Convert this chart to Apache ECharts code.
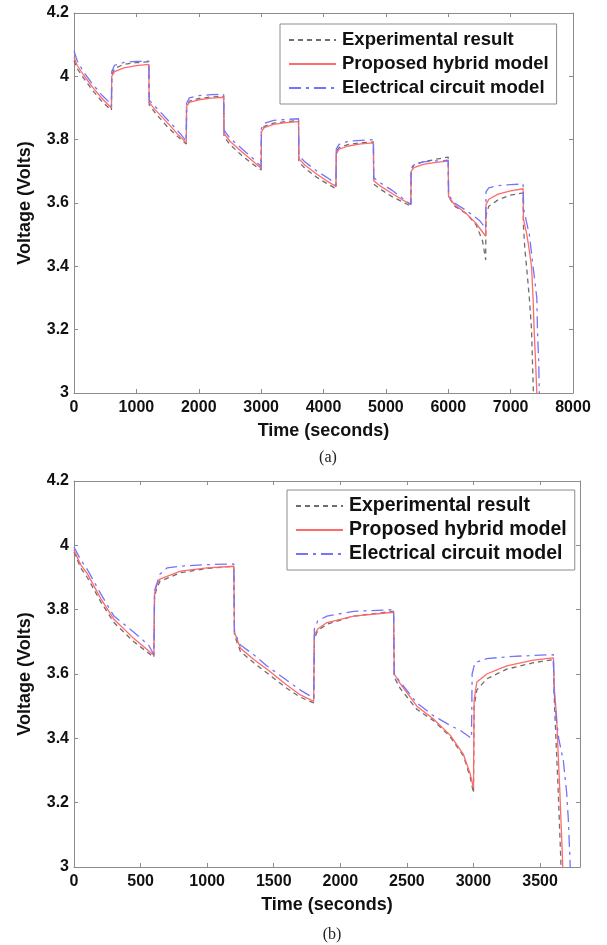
<!DOCTYPE html>
<html>
<head>
<meta charset="UTF-8">
<title>Voltage response</title>
<script src="https://cdn.jsdelivr.net/npm/echarts@6/dist/echarts.min.js"></script>
<style>
html,body{margin:0;padding:0;background:#fff;}
#chart{width:607px;height:945px;}
</style>
</head>
<body>
<div id="chart"></div>
<script>
// series names / tick settings
var names = ['Experimental result', 'Proposed hybrid model', 'Electrical circuit model'];
var yTicks = {min: 3, max: 4.2, step: 0.2};
var xTicksA = {min: 0, max: 8000, step: 1000};
var xTicksB = {min: 0, max: 3800, step: 500};

// (a) values: [time s, voltage V]
var expA = [[0,4.05],[50,4.025],[150,3.995],[300,3.955],[450,3.92],[600,3.893],
  [605,4.005],[650,4.025],[800,4.038],[1000,4.043],[1200,4.046],
  [1205,3.91],[1300,3.885],[1500,3.84],[1650,3.812],[1800,3.786],
  [1805,3.905],[1850,3.922],[2000,3.93],[2200,3.935],[2400,3.937],
  [2405,3.81],[2500,3.785],[2700,3.748],[2850,3.725],[3000,3.704],
  [3005,3.83],[3050,3.842],[3200,3.852],[3400,3.857],[3600,3.86],
  [3605,3.73],[3700,3.71],[3900,3.68],[4050,3.662],[4200,3.645],
  [4205,3.76],[4250,3.775],[4400,3.785],[4600,3.79],[4800,3.793],
  [4805,3.66],[4900,3.645],[5100,3.62],[5250,3.605],[5400,3.59],
  [5405,3.705],[5450,3.72],[5600,3.73],[5800,3.738],[6000,3.745],
  [6005,3.62],[6100,3.59],[6300,3.565],[6450,3.53],[6550,3.48],[6600,3.42],
  [6605,3.56],[6650,3.59],[6800,3.61],[7000,3.625],[7200,3.632],
  [7205,3.53],[7230,3.45],[7255,3.40],[7300,3.30],[7335,3.20],[7350,3.10],[7365,3.0],[7370,2.95]];
var hybA = [[0,4.06],[50,4.035],[150,4.005],[300,3.965],[450,3.93],[600,3.90],
  [605,4.0],[650,4.015],[800,4.027],[1000,4.034],[1200,4.038],
  [1205,3.918],[1300,3.895],[1500,3.853],[1650,3.82],[1800,3.79],
  [1805,3.905],[1850,3.918],[2000,3.926],[2200,3.931],[2400,3.934],
  [2405,3.82],[2500,3.795],[2700,3.76],[2850,3.735],[3000,3.71],
  [3005,3.825],[3050,3.838],[3200,3.848],[3400,3.854],[3600,3.857],
  [3605,3.74],[3700,3.72],[3900,3.69],[4050,3.67],[4200,3.652],
  [4205,3.755],[4250,3.77],[4400,3.78],[4600,3.787],[4800,3.79],
  [4805,3.67],[4900,3.655],[5100,3.63],[5250,3.612],[5400,3.595],
  [5405,3.70],[5450,3.712],[5600,3.722],[5800,3.728],[6000,3.732],
  [6005,3.62],[6100,3.595],[6300,3.565],[6450,3.535],[6600,3.495],
  [6605,3.595],[6650,3.612],[6800,3.628],[7000,3.638],[7200,3.645],
  [7205,3.55],[7260,3.50],[7300,3.45],[7335,3.40],[7360,3.30],[7377,3.20],[7400,3.10],[7420,3.0],[7430,2.95]];
var eccA = [[0,4.08],[50,4.05],[150,4.015],[300,3.975],[450,3.94],[580,3.915],[600,3.905],
  [605,4.015],[650,4.035],[800,4.044],[1000,4.047],[1200,4.048],
  [1205,3.925],[1300,3.905],[1500,3.863],[1700,3.82],[1800,3.795],
  [1805,3.915],[1850,3.932],[2000,3.939],[2200,3.942],[2400,3.943],
  [2405,3.83],[2500,3.805],[2700,3.77],[2900,3.735],[3000,3.715],
  [3005,3.835],[3050,3.852],[3200,3.861],[3400,3.864],[3600,3.866],
  [3605,3.75],[3700,3.73],[3900,3.70],[4100,3.675],[4200,3.655],
  [4205,3.77],[4250,3.785],[4400,3.795],[4600,3.798],[4800,3.80],
  [4805,3.68],[4900,3.665],[5100,3.64],[5300,3.61],[5400,3.595],
  [5405,3.71],[5450,3.722],[5600,3.73],[5800,3.733],[6000,3.735],
  [6005,3.625],[6100,3.60],[6300,3.575],[6500,3.545],[6600,3.52],
  [6605,3.635],[6650,3.648],[6800,3.655],[7000,3.658],[7200,3.66],
  [7210,3.58],[7300,3.50],[7360,3.40],[7420,3.30],[7430,3.20],[7450,3.10],[7460,3.0],[7465,2.95]];

// (b)
var expB = [[0,3.98],[50,3.93],[100,3.90],[200,3.825],[300,3.76],[450,3.70],[600,3.652],
  [605,3.84],[620,3.865],[645,3.888],[800,3.915],[1000,3.928],[1200,3.935],
  [1205,3.72],[1250,3.67],[1350,3.635],[1450,3.603],[1600,3.555],[1700,3.528],[1800,3.51],
  [1805,3.71],[1830,3.735],[1900,3.755],[2100,3.78],[2400,3.795],
  [2405,3.59],[2450,3.555],[2575,3.49],[2700,3.455],[2825,3.405],[2925,3.345],[2975,3.28],[3000,3.23],
  [3005,3.50],[3025,3.55],[3100,3.585],[3250,3.615],[3450,3.635],[3600,3.645],
  [3605,3.55],[3612,3.47],[3635,3.25],[3656,3.02],[3660,2.95]];
var hybB = [[0,3.985],[50,3.94],[100,3.912],[200,3.835],[300,3.77],[450,3.71],[600,3.658],
  [605,3.85],[620,3.875],[645,3.895],[800,3.92],[1000,3.93],[1200,3.935],
  [1205,3.73],[1250,3.68],[1350,3.645],[1450,3.615],[1600,3.565],[1700,3.535],[1800,3.515],
  [1805,3.72],[1830,3.74],[1900,3.76],[2100,3.78],[2400,3.792],
  [2405,3.60],[2450,3.57],[2575,3.50],[2700,3.46],[2825,3.41],[2925,3.35],[2975,3.29],[3000,3.245],
  [3005,3.52],[3025,3.575],[3100,3.60],[3250,3.625],[3450,3.643],[3600,3.65],
  [3608,3.55],[3624,3.47],[3649,3.23],[3669,3.02],[3673,2.95]];
var eccB = [[0,3.995],[50,3.955],[100,3.925],[200,3.85],[300,3.78],[450,3.73],[560,3.69],[600,3.66],
  [605,3.86],[645,3.91],[700,3.93],[800,3.935],[1000,3.94],[1200,3.942],
  [1205,3.73],[1250,3.69],[1350,3.66],[1450,3.625],[1600,3.58],[1700,3.55],[1800,3.525],
  [1805,3.74],[1830,3.765],[1900,3.78],[2100,3.795],[2400,3.80],
  [2405,3.60],[2450,3.575],[2575,3.51],[2700,3.47],[2825,3.44],[2900,3.425],[2985,3.40],
  [2990,3.60],[3010,3.635],[3100,3.648],[3300,3.655],[3600,3.66],
  [3605,3.55],[3620,3.47],[3640,3.40],[3675,3.33],[3700,3.23],[3712,3.15],[3725,3.02],[3730,2.95]];

var font = "'Liberation Sans', Arial, sans-serif";
var axisGray = '#8c8c8c';
var colors = ['#6e6e6e', '#ff6a6a', '#7373ff'];
var dashes = [[5, 4], 'solid', [12, 5, 3, 5]];

function plain(v) { return String(v); }

function xAxes(g, t, labels) {
  var base = {
    type: 'value', gridIndex: g, min: t.min, max: t.max, interval: t.step,
    splitLine: {show: false},
    axisLine: {show: true, onZero: false, lineStyle: {color: axisGray, width: 1}},
    axisTick: {show: true, inside: true, length: 4, lineStyle: {color: axisGray}}
  };
  var bottom = echarts.util.merge({
    position: 'bottom',
    name: 'Time (seconds)', nameLocation: 'middle', nameGap: 29,
    nameTextStyle: {fontFamily: font, fontWeight: 'bold', fontSize: 18, color: '#111'},
    axisLabel: {show: true, margin: 7, fontFamily: font, fontWeight: 'bold', fontSize: 16, color: '#111',
      showMaxLabel: labels, formatter: plain}
  }, base, true);
  var top = echarts.util.merge({position: 'top', axisLabel: {show: false}}, base, true);
  return [bottom, top];
}

function yAxes(g) {
  var base = {
    type: 'value', gridIndex: g, min: yTicks.min, max: yTicks.max, interval: yTicks.step,
    splitLine: {show: false},
    axisLine: {show: true, onZero: false, lineStyle: {color: axisGray, width: 1}},
    axisTick: {show: true, inside: true, length: 4, lineStyle: {color: axisGray}}
  };
  var left = echarts.util.merge({
    position: 'left',
    name: 'Voltage (Volts)', nameLocation: 'middle', nameGap: 40,
    nameTextStyle: {fontFamily: font, fontWeight: 'bold', fontSize: 18, color: '#111'},
    axisLabel: {show: true, margin: 5, fontFamily: font, fontWeight: 'bold', fontSize: 16, color: '#111', formatter: plain}
  }, base, true);
  var right = echarts.util.merge({position: 'right', axisLabel: {show: false}}, base, true);
  return [left, right];
}

function buildSeries(data, xi, yi) {
  return data.map(function (d, i) {
    return {
      name: names[i], type: 'line', xAxisIndex: xi, yAxisIndex: yi,
      data: d, symbol: 'none', clip: true, animation: false,
      lineStyle: {color: colors[i], width: 1.3, type: dashes[i]},
      itemStyle: {color: colors[i]}
    };
  });
}

function legendAt(left, top, fs) {
  return {
    left: left, top: top, orient: 'vertical',
    data: names,
    backgroundColor: '#fff', borderColor: axisGray, borderWidth: 1, borderRadius: 0,
    padding: [6, 8, 6, 8],
    itemWidth: 47, itemHeight: 20, itemGap: 4,
    // hide the default circle marker, keep only the line sample
    itemStyle: {color: 'rgba(0,0,0,0)', borderWidth: 0},
    textStyle: {fontFamily: font, fontWeight: 'bold', fontSize: fs, color: '#111', lineHeight: 20, padding: [0, 0, 0, 1]},
    selectedMode: false
  };
}

var chart = echarts.init(document.getElementById('chart'), null, {renderer: 'canvas'});
var xa = xAxes(0, xTicksA, true);
var xb = xAxes(1, xTicksB, false);
var ya = yAxes(0);
var yb = yAxes(1);

chart.setOption({
  backgroundColor: '#fff',
  animation: false,
  title: [
    {text: '(a)', left: 323, top: 445, textAlign: 'center',
      textStyle: {fontFamily: "'Liberation Serif', 'Times New Roman', serif", fontWeight: 'normal', fontSize: 16, color: '#222'}},
    {text: '(b)', left: 327, top: 922, textAlign: 'center',
      textStyle: {fontFamily: "'Liberation Serif', 'Times New Roman', serif", fontWeight: 'normal', fontSize: 16, color: '#222'}}
  ],
  grid: [
    {left: 74, top: 13, width: 499, height: 380},
    {left: 74, top: 481, width: 506, height: 386}
  ],
  xAxis: [xa[0], xa[1], xb[0], xb[1]],
  yAxis: [ya[0], ya[1], yb[0], yb[1]],
  legend: [legendAt(280, 24, 18.5), legendAt(287, 490, 19.5)],
  series: buildSeries([expA, hybA, eccA], 0, 0).concat(buildSeries([expB, hybB, eccB], 2, 2))
});
</script>
</body>
</html>
